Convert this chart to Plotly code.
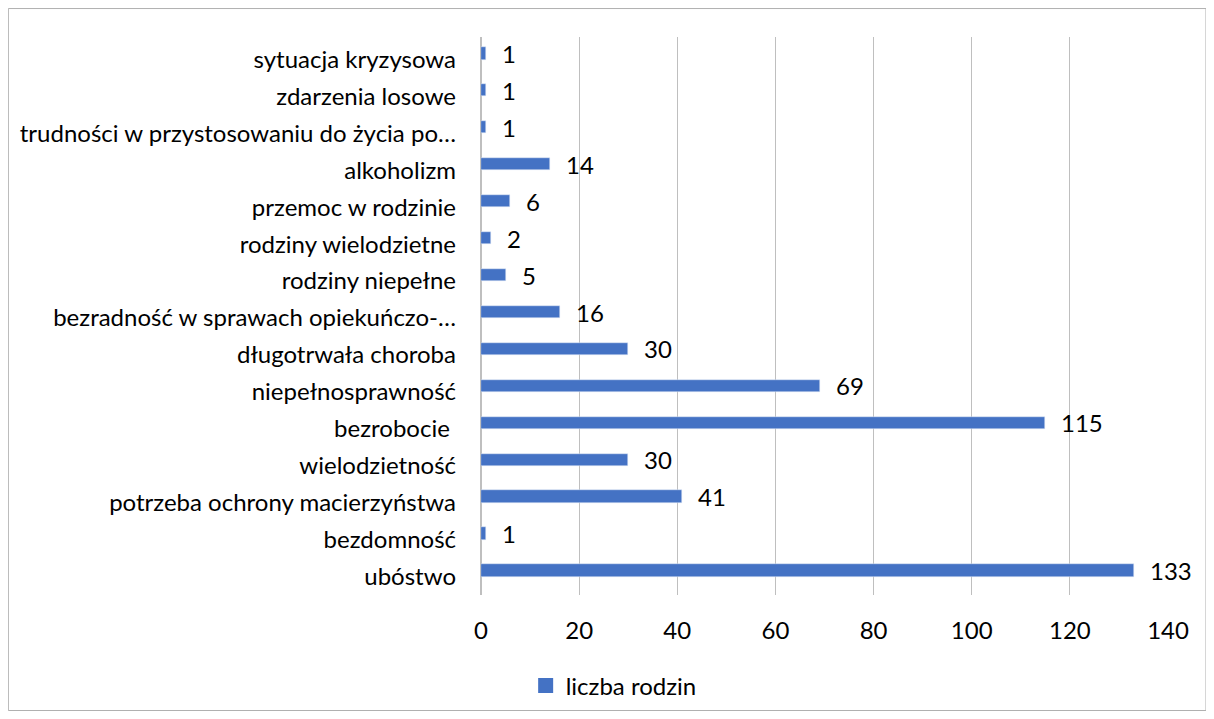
import plotly.graph_objects as go

# categories listed bottom -> top, as drawn
categories = [
    "ubóstwo",
    "bezdomność",
    "potrzeba ochrony macierzyństwa",
    "wielodzietność",
    "bezrobocie ",
    "niepełnosprawność",
    "długotrwała choroba",
    "bezradność w sprawach opiekuńczo-…",
    "rodziny niepełne",
    "rodziny wielodzietne",
    "przemoc w rodzinie",
    "alkoholizm",
    "trudności w przystosowaniu do życia po…",
    "zdarzenia losowe",
    "sytuacja kryzysowa",
]
values = [133, 1, 41, 30, 115, 69, 30, 16, 5, 2, 6, 14, 1, 1, 1]
series_name = "liczba rodzin"
x_ticks = [0, 20, 40, 60, 80, 100, 120, 140]

FONT = "Lato, Calibri, sans-serif"
FSIZE = 24
BLUE = "#4472C4"

fig = go.Figure(go.Bar(
    x=values,
    y=categories,
    orientation="h",
    name=series_name,
    marker_color=BLUE,
    width=0.33,
    offset=0,
    showlegend=False,
))

# legend entry with a larger square swatch (Excel style)
fig.add_trace(go.Scatter(
    x=[None], y=[None], mode="markers", name=series_name,
    marker=dict(symbol="square", size=15, color=BLUE),
    showlegend=True, hoverinfo="skip",
))

# data labels at the bar ends
for cat, v in zip(categories, values):
    fig.add_annotation(
        x=v, y=cat, text=str(v), showarrow=False,
        xanchor="left", xshift=14, yshift=6,
        font=dict(family=FONT, size=FSIZE, color="#000000"),
    )

# outer chart border (page body adds an 8px offset)
fig.add_shape(
    type="rect", xref="paper", yref="paper",
    x0=-0.688, x1=1.0553, y0=-0.2070, y1=1.051,
    line=dict(color="#b0b0b0", width=1), fillcolor="rgba(0,0,0,0)",
    layer="below",
)

fig.update_layout(
    width=1214, height=719,
    margin=dict(l=473, r=54, t=29, b=132),
    plot_bgcolor="white",
    paper_bgcolor="white",
    font=dict(family=FONT, size=FSIZE, color="#000000"),
    xaxis=dict(
        range=[0, 140], tickvals=x_ticks, automargin=False,
        showgrid=True, gridcolor="#bfbfbf", gridwidth=1,
        zeroline=True, zerolinecolor="#bfbfbf",
        showline=False, ticks="", ticklabelstandoff=19,
    ),
    yaxis=dict(
        showgrid=False, showline=False, ticks="", automargin=False,
        ticklabelstandoff=24,
    ),
    legend=dict(
        orientation="h", x=0.065, y=-0.163, xanchor="left", yanchor="middle",
        font=dict(family=FONT, size=FSIZE), itemwidth=30,
    ),
    bargap=0,
)

fig.write_html("out.html")
